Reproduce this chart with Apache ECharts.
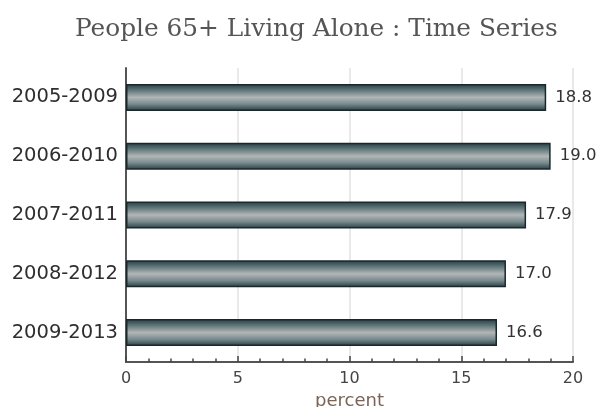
<!DOCTYPE html>
<html><head><meta charset="utf-8">
<script src="https://cdn.jsdelivr.net/npm/echarts@6/dist/echarts.min.js"></script>
<style>html,body{margin:0;padding:0;background:#fff}#c{width:602px;height:407px}</style>
</head><body><div id="c"></div>
<script>
const title = 'People 65+ Living Alone : Time Series';
const categories = ['2005-2009','2006-2010','2007-2011','2008-2012','2009-2013'];
const values = [18.8, 19.0, 17.9, 17.0, 16.6];
const xAxisName = 'percent';

const chart = echarts.init(document.getElementById('c'));
chart.setOption({
  animation: false,
  backgroundColor: '#fff',
  title: {
    text: title, left: 70, top: 12,
    textStyle: { fontFamily: 'DejaVu Serif', fontSize: 24.8, fontWeight: 'normal', color: '#555' }
  },
  grid: { left: 126, right: 29, top: 68, bottom: 45, outerBoundsMode: 'none', containLabel: false },
  xAxis: {
    type: 'value', min: 0, max: 20, interval: 5,
    name: xAxisName, nameLocation: 'middle', nameGap: 27,
    nameTextStyle: { fontFamily: 'DejaVu Sans', fontSize: 18, color: '#7a6458' },
    axisLine: { show: true, lineStyle: { color: '#555', width: 2 } },
    axisTick: { show: true, inside: true, length: 6, lineStyle: { color: '#444', width: 1.5 } },
    minorTick: { show: true, splitNumber: 5, length: 3.5, lineStyle: { color: '#444', width: 1.5 } },
    axisLabel: { fontFamily: 'DejaVu Sans', fontSize: 16, color: '#444', margin: 9 },
    splitLine: { show: true, lineStyle: { color: '#e2e2e2', width: 1.5 } }
  },
  yAxis: {
    type: 'category', data: categories, inverse: true,
    axisLine: { show: true, lineStyle: { color: '#555', width: 2 } },
    axisTick: { show: false },
    axisLabel: { fontFamily: 'DejaVu Sans', fontSize: 19.5, color: '#2e2e2e', margin: 8 }
  },
  series: [{
    type: 'bar', data: values, barWidth: 27,
    itemStyle: {
      borderColor: '#1a282c', borderWidth: 1.5,
      color: new echarts.graphic.LinearGradient(0, 0, 0, 1, [
        { offset: 0, color: '#263c41' },
        { offset: 0.2, color: '#556d72' },
        { offset: 0.5, color: '#b2b6b6' },
        { offset: 0.75, color: '#778a8e' },
        { offset: 1, color: '#263c41' }
      ])
    },
    label: {
      show: true, position: 'right', distance: 9,
      formatter: p => p.value.toFixed(1),
      fontFamily: 'DejaVu Sans', fontSize: 16.5, color: '#333'
    }
  }]
});
</script></body></html>
